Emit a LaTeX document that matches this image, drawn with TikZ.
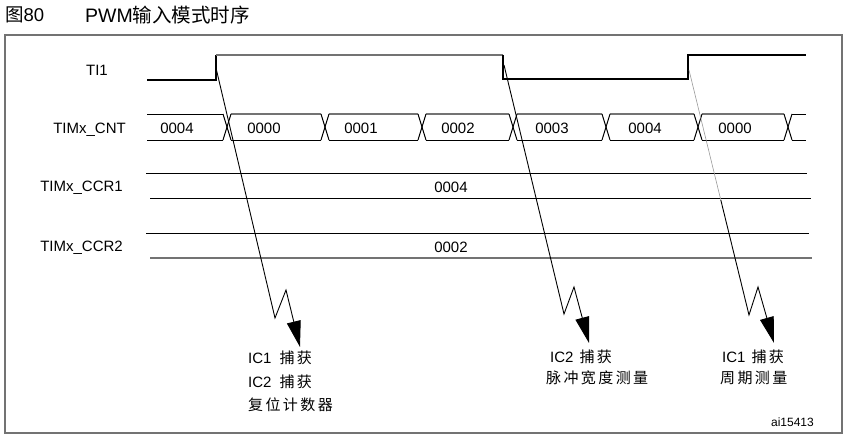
\documentclass[tikz,border=0pt]{standalone}
\usepackage{fontspec}
\setmainfont{Liberation Sans}
\newfontfamily\cjk{Noto Sans CJK SC}[LetterSpace=16]
\newfontfamily\cjkt{Noto Sans CJK SC}
\usetikzlibrary{arrows.meta}
\begin{document}
\begin{tikzpicture}[x=1pt,y=-1pt,
  frame/.style={draw=black!55,line width=1.4pt},
  sig/.style={line width=1.1pt,black},
  sighi/.style={line width=1.6pt,black!55},
  bus/.style={line width=1pt,black},
  bustop/.style={line width=1.6pt,black!55},
  capline/.style={line width=0.9pt,black,line join=miter},
  captip/.style={-{Triangle[length=26pt,width=14pt]}},
  lbl/.style={font=\fontsize{15}{18}\selectfont,inner sep=0pt},
  val/.style={font=\fontsize{15}{18}\selectfont,inner sep=0pt},
  note/.style={font=\fontsize{15}{18}\selectfont,inner sep=0pt,anchor=west}]
\useasboundingbox (0,0) rectangle (844,436);
% frame and title
\draw[frame] (5,35) rectangle (842,433);
\node[anchor=west,inner sep=0pt,font=\fontsize{18.5}{22}\selectfont] (fig) at (5,15) {{\cjkt 图}80};
\node[anchor=west,inner sep=0pt,font=\fontsize{19.5}{22}\selectfont] (title) at (85,15) {PWM{\cjkt 输入模式时序}};
% left labels
\node[lbl,anchor=east] (lti) at (108,70) {TI1};
\node[lbl,anchor=east] (lcnt) at (126,130) {TIMx\_CNT};
\node[lbl,anchor=east] (lccr1) at (123,188) {TIMx\_CCR1};
\node[lbl,anchor=east] (lccr2) at (123,248) {TIMx\_CCR2};
% TI1 signal
\draw[sig] (147,80) -- (216,80) -- (216,55);
\draw[sighi] (216,55) -- (503,55);
\draw[sig] (503,55) -- (503,79) -- (688,79) -- (688,55) -- (806,55);
% CNT bus
\draw[bus] (147,114) -- (223,114);
\foreach \a/\b in {231/321, 329/418, 426/509, 517/602, 610/694, 702/784} {
  \draw[bustop] (\a,114) -- (\b,114);
}
\draw[bus] (792,114) -- (806,114);
\foreach \a/\b in {147/223, 231/321, 329/418, 426/509, 517/602, 610/694, 702/784, 792/806} {
  \draw[bus] (\a,140) -- (\b,140);
}
\foreach \c in {227,325,422,513,606,698,788} {
  \draw[bus] (\c-4,114) -- (\c+4,140);
  \draw[bus] (\c-4,140) -- (\c+4,114);
}
\node[val] (v1) at (177,128) {0004};
\node[val] (v2) at (264,128) {0000};
\node[val] (v3) at (361,128) {0001};
\node[val] (v4) at (458,128) {0002};
\node[val] (v5) at (552,128) {0003};
\node[val] (v6) at (645,128) {0004};
\node[val] (v7) at (735,128) {0000};
% CCR1 / CCR2
\draw[bus] (146,173) -- (807,173);
\draw[bus] (150,198) -- (811,198);
\node[val] (c1) at (451,187) {0004};
\draw[bus] (146,233) -- (809,233);
\draw[bustop] (150,258) -- (812,258);
\node[val] (c2) at (451,247) {0002};
% capture arrows
\coordinate (e1) at (216,68);
\coordinate (z1a) at (275,318);
\coordinate (z1b) at (286,290);
\coordinate (t1) at (300,347);
\draw[capline,captip] (e1) -- (z1a) -- (z1b) -- (t1);
\coordinate (e2) at (504,65);
\coordinate (z2a) at (564,314);
\coordinate (z2b) at (574,287);
\coordinate (t2) at (589,343);
\draw[capline,captip] (e2) -- (z2a) -- (z2b) -- (t2);
\coordinate (e3) at (689,70);
\coordinate (m3) at (720.8,200);
\coordinate (z3a) at (749,315);
\coordinate (z3b) at (758,287);
\coordinate (t3) at (774,343);
\draw[line width=0.6pt,black!40] (e3) -- (m3);
\draw[capline,captip] (m3) -- (z3a) -- (z3b) -- (t3);
% notes
\node[note] (n1a) at (248,358) {IC1\hspace{8pt}{\cjk 捕获}};
\node[note] (n1b) at (248,382) {IC2\hspace{8pt}{\cjk 捕获}};
\node[note] (n1c) at (248,405) {\cjk 复位计数器};
\node[note] (n2a) at (550,357) {IC2\hspace{6pt}{\cjk 捕获}};
\node[note] (n2b) at (546,378) {\cjk 脉冲宽度测量};
\node[note] (n3a) at (722,357) {IC1\hspace{6pt}{\cjk 捕获}};
\node[note] (n3b) at (720,378) {\cjk 周期测量};
\node[anchor=east,inner sep=0pt,font=\fontsize{12}{14}\selectfont] (id) at (814,422) {ai15413};
\end{tikzpicture}
\end{document}
